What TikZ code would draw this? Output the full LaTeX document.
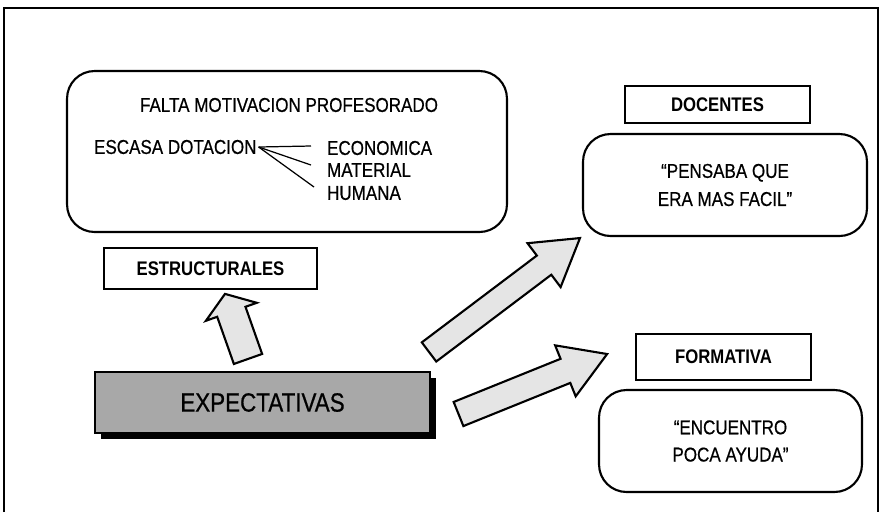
\documentclass[tikz,border=0pt]{standalone}
\usepackage{fontspec}
\setmainfont{Liberation Sans}[FakeStretch=0.85]
\usepackage{tikz}
\usetikzlibrary{calc,shadows}
\definecolor{dotgray}{gray}{0.66}
\definecolor{arrowgray}{gray}{0.9}

\tikzset{
  labelbox/.style={draw, rectangle, line width=1pt, font=\fontsize{11.2pt}{13pt}\bfseries, inner sep=0pt},
  roundbox/.style={draw, rectangle, rounded corners=0.55cm, line width=1.2pt, align=center, inner sep=0pt},
  plaintext/.style={font=\fontsize{11.4pt}{13pt}\selectfont\addfontfeature{FakeBold=0.6}, inner sep=1pt},
  fatarrowline/.style={draw, line width=1.2pt, fill=arrowgray, line join=miter},
}

% block arrow: tail, tip, shaft half width, head half width, head length
\newcommand{\fatarrow}[5]{%
  \coordinate (fa-base) at ($(#2)!#5!(#1)$);
  \draw[fatarrowline] ($(#1)!#3!90:(#2)$) -- ($(fa-base)!#3!90:(#2)$)
    -- ($(fa-base)!#4!90:(#2)$) -- (#2) -- ($(fa-base)!#4!-90:(#2)$)
    -- ($(fa-base)!#3!-90:(#2)$) -- ($(#1)!#3!-90:(#2)$) -- cycle;
}

\begin{document}
\begin{tikzpicture}[x=0.02cm, y=-0.02cm]
\useasboundingbox (0,0) rectangle (882,512);

% Frame
\draw[line width=0.8pt] (4,512) -- (4,8) -- (878,8) -- (878,512);

% Structural box
\node[roundbox, minimum width=8.8cm, minimum height=3.22cm] (causes) at (287,151.5) {};
\node[plaintext] (falta) at (289,105) {FALTA MOTIVACION PROFESORADO};
\node[plaintext, anchor=west] (escasa) at (92,147) {ESCASA DOTACION};
\node[plaintext, anchor=west] (economica) at (325,148) {ECONOMICA};
\node[plaintext, anchor=west] (material) at (325,170) {MATERIAL};
\node[plaintext, anchor=west] (humana) at (325,193) {HUMANA};
\draw[line width=0.7pt] (escasa.east) -- ($(economica.west)+(-14,-2)$);
\draw[line width=0.7pt] (escasa.east) -- ($(material.west)+(-14,-5)$);
\draw[line width=0.7pt] (escasa.east) -- ($(humana.west)+(-11,-6)$);
\node[labelbox, minimum width=4.26cm, minimum height=0.82cm] (estruct) at (210.5,268.5) {ESTRUCTURALES};

% Main box
\node[draw, rectangle, line width=1.2pt, fill=dotgray, minimum width=6.7cm, minimum height=1.22cm,
  drop shadow={shadow xshift=0.12cm, shadow yshift=-0.12cm, fill=black, opacity=1},
  font=\fontsize{15pt}{17pt}\selectfont\addfontfeature{FakeBold=0.6}] (expect) at (262.5,402.5) {EXPECTATIVAS};

% Teaching side
\node[labelbox, minimum width=3.7cm, minimum height=0.74cm] (docentes) at (717.5,104.5) {DOCENTES};
\node[roundbox, minimum width=5.68cm, minimum height=2.04cm,
  font=\fontsize{11.4pt}{16pt}\selectfont\addfontfeature{FakeBold=0.6}] (pensaba) at (725,185) {“PENSABA QUE\\ERA MAS FACIL”};
\node[labelbox, minimum width=3.5cm, minimum height=0.92cm] (formativa) at (723.5,357) {FORMATIVA};
\node[roundbox, minimum width=5.26cm, minimum height=2.04cm,
  font=\fontsize{11.4pt}{15.5pt}\selectfont\addfontfeature{FakeBold=0.6}] (encuentro) at (730.5,441) {“ENCUENTRO\\POCA AYUDA”};

% Arrows
\coordinate (upTail) at ($(expect.north)+(-14.5,-12)$);
\coordinate (upTip) at ($(estruct.south)+(14.5,4)$);
\coordinate (docTail) at ($(expect.north east)+(-2,-19)$);
\coordinate (docTip) at ($(pensaba.south west)+(-2,1)$);
\coordinate (forTail) at ($(expect.east)+(27.5,11.5)$);
\coordinate (forTip) at ($(formativa.west)+(-28,-3)$);
\fatarrow{upTail}{upTip}{0.3cm}{0.54cm}{0.38cm}
\fatarrow{docTail}{docTip}{0.24cm}{0.55cm}{0.9cm}
\fatarrow{forTail}{forTip}{0.26cm}{0.55cm}{0.9cm}
\end{tikzpicture}
\end{document}
